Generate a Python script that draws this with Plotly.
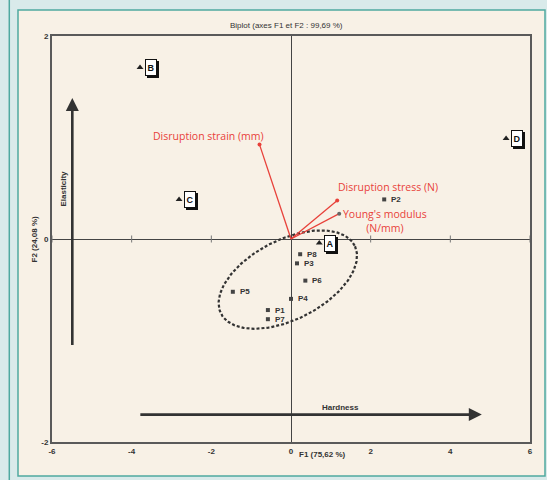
import plotly.graph_objects as go
import numpy as np

# ---------------- data ----------------
obs_labels = ["A", "B", "C", "D"]
obs_x = [0.71, -3.79, -2.81, 5.40]
obs_y = [-0.04, 1.69, 0.39, 0.99]

prod_labels = ["P1", "P2", "P3", "P4", "P5", "P6", "P7", "P8"]
prod_x = [-0.58, 2.34, 0.15, 0.00, -1.46, 0.36, -0.58, 0.23]
prod_y = [-0.70, 0.39, -0.24, -0.59, -0.52, -0.41, -0.79, -0.15]

var_labels = ["Disruption strain (mm)", "Disruption stress (N)", "Young's modulus<br>(N/mm)"]
var_x = [-0.79, 1.16, 1.21]
var_y = [0.93, 0.38, 0.25]

x_ticks = [-6, -4, -2, 0, 2, 4, 6]
y_ticks = [-2, 0, 2]

# ellipse (center and conjugate semi-axis vectors, data units)
ell_c = (-0.08, -0.40)
ell_u = (1.678, 0.335)
ell_v = (-0.45, 0.35)

# interpretation arrows
elast_x = -5.49
elast_y = (-1.06, 1.39)
hard_y = -1.73
hard_x = (-3.82, 4.79)

RED = "#e8413a"
DARK = "#333333"
FONT = "Liberation Sans"
TFONT = "Open Sans"

t = np.linspace(0, 2 * np.pi, 200)
ex = ell_c[0] + ell_u[0] * np.cos(t) + ell_v[0] * np.sin(t)
ey = ell_c[1] + ell_u[1] * np.cos(t) + ell_v[1] * np.sin(t)

fig = go.Figure()

# ellipse
fig.add_trace(go.Scatter(x=ex, y=ey, mode="lines",
                         line=dict(color="#333333", width=2.2, dash="3px,2px"),
                         hoverinfo="skip", showlegend=False))

# small ticks on the zero line
zt = [v for v in x_ticks if v != 0]
fig.add_trace(go.Scatter(x=zt, y=[0] * len(zt), mode="markers",
                         marker=dict(symbol="line-ns", size=5, line=dict(color="#777", width=1)),
                         hoverinfo="skip", showlegend=False))

# variable vectors
for i, (vx, vy) in enumerate(zip(var_x, var_y)):
    fig.add_trace(go.Scatter(x=[0, vx], y=[0, vy], mode="lines",
                             line=dict(color=RED, width=1.3),
                             hoverinfo="skip", showlegend=False))
    fig.add_trace(go.Scatter(x=[vx], y=[vy], mode="markers",
                             marker=dict(color=RED if i < 2 else "#666", size=4),
                             hoverinfo="skip", showlegend=False))

# products
fig.add_trace(go.Scatter(x=prod_x, y=prod_y, mode="markers",
                         marker=dict(symbol="square", size=4, color="#444"),
                         hoverinfo="skip", showlegend=False))
# observations
fig.add_trace(go.Scatter(x=obs_x, y=obs_y, mode="markers",
                         marker=dict(symbol="triangle-up", size=6, color="#222"),
                         hoverinfo="skip", showlegend=False))

ann = []
for lab, x, y in zip(prod_labels, prod_x, prod_y):
    ann.append(dict(x=x, y=y, text=lab, showarrow=False, xanchor="left", xshift=5,
                    font=dict(family=FONT, size=8, color=DARK, weight="bold")))
for lab, x, y in zip(obs_labels, obs_x, obs_y):
    # shadow box (no text)
    ann.append(dict(x=x, y=y, text="&nbsp;", showarrow=False, xanchor="left", xshift=7, yshift=-2,
                    width=8, height=13, font=dict(family=FONT, size=9),
                    bgcolor="#111", bordercolor="#111", borderwidth=1, borderpad=1))
    ann.append(dict(x=x, y=y, text=lab, showarrow=False, xanchor="left", xshift=5,
                    width=8, height=13,
                    font=dict(family=FONT, size=9, color="#111", weight="bold"),
                    bgcolor="white", bordercolor="#111", borderwidth=1, borderpad=1))

var_shift = [(-51, 9), (51, 13), (46, -7)]
for lab, x, y, (dx, dy) in zip(var_labels, var_x, var_y, var_shift):
    ann.append(dict(x=x, y=y, text=lab, showarrow=False, xshift=dx, yshift=dy,
                    font=dict(family=TFONT, size=10.5, color=RED)))

# interpretation arrows
ann.append(dict(x=elast_x, y=elast_y[1], ax=elast_x, ay=elast_y[0], axref="x", ayref="y",
                xref="x", yref="y", text="", showarrow=True, arrowhead=2, arrowsize=1,
                arrowwidth=2.6, arrowcolor="#333"))
ann.append(dict(x=hard_x[1], y=hard_y, ax=hard_x[0], ay=hard_y, axref="x", ayref="y",
                xref="x", yref="y", text="", showarrow=True, arrowhead=2, arrowsize=1,
                arrowwidth=2.6, arrowcolor="#333"))
ann.append(dict(x=elast_x, y=0.5, text="Elasticity", textangle=-90, showarrow=False, xshift=-9,
                font=dict(family=FONT, size=8, color=DARK, weight="bold")))
ann.append(dict(x=1.23, y=hard_y, text="Hardness", showarrow=False, yshift=7,
                font=dict(family=FONT, size=8, color=DARK, weight="bold")))

# axis titles
ann.append(dict(x=0, y=0, xref="x", yref="paper", text="F1 (75,62 %)", showarrow=False,
                xanchor="left", yanchor="middle", xshift=6, yshift=-12,
                font=dict(family=FONT, size=8, color=DARK, weight="bold")))
ann.append(dict(x=0, y=0, xref="paper", yref="y", text="F2 (24,08 %)", showarrow=False,
                textangle=-90, xanchor="right", yanchor="middle", xshift=-12,
                font=dict(family=FONT, size=8, color=DARK, weight="bold")))
ann.append(dict(x=0.49, y=1, xref="paper", yref="paper", text="Biplot (axes F1 et F2 : 99,69 %)",
                showarrow=False, yanchor="bottom", yshift=4,
                font=dict(family=FONT, size=8, color=DARK)))

# page decorations (pixel -> paper conversion for plot area 52..530 x 36..442)
L, R, T, B = 52, 530, 36, 442
def px(v):
    return (v - L) / (R - L)
def py(v):
    return (B - v) / (B - T)

shapes = [
    dict(type="rect", xref="paper", yref="paper", x0=px(18), x1=px(545), y0=py(476), y1=py(10),
         fillcolor="#f8f1e6", line=dict(color="#4fa9a0", width=1.5), layer="below"),
    dict(type="line", xref="paper", yref="paper", x0=px(9.3), x1=px(9.3), y0=py(481), y1=py(-1),
         line=dict(color="#4fa9a0", width=1.5), layer="below"),
]

axis_common = dict(showgrid=False, zeroline=True, zerolinecolor="#444", zerolinewidth=1.2,
                   showline=True, mirror=True, linecolor="#5a5a5a", linewidth=2,
                   ticks="", tickfont=dict(family=FONT, size=8, color=DARK, weight="bold"))

fig.update_layout(
    width=547, height=480,
    margin=dict(l=L, r=547 - R, t=T, b=480 - B),
    paper_bgcolor="#d9eaea", plot_bgcolor="rgba(0,0,0,0)",
    xaxis=dict(range=[-6, 6], tickvals=x_ticks, ticktext=[str(v) for v in x_ticks],
               **axis_common),
    yaxis=dict(range=[-2, 2], tickvals=y_ticks, ticktext=[str(v) for v in y_ticks], **axis_common),
    annotations=ann, shapes=shapes, showlegend=False,
)

fig.write_html("out.html")
